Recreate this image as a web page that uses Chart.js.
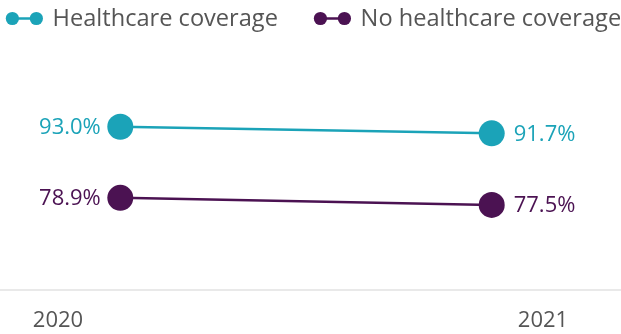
<!DOCTYPE html>
<html><head><meta charset="utf-8">
<script src="https://cdn.jsdelivr.net/npm/chart.js@4/dist/chart.umd.min.js"></script>
<style>html,body{margin:0;padding:0;background:#fff}#wrap{width:621px;height:334px;position:relative}</style>
</head><body><div id="wrap"><canvas id="c"></canvas></div>
<script>
const years = [2020, 2021];
const tickLabels = ['2020', '2021'];
const seriesNames = ['Healthcare coverage', 'No healthcare coverage'];
const healthcare = [93.0, 91.7];
const noHealthcare = [78.9, 77.5];

const colors = ['#1ba3b8', '#4b1252'];
const FONT = '"Open Sans", "Noto Sans", sans-serif';

const pointLabels = {
  id: 'pointLabels',
  afterDatasetsDraw(chart) {
    const ctx = chart.ctx;
    chart.data.datasets.forEach((ds, i) => {
      const meta = chart.getDatasetMeta(i);
      meta.data.forEach((pt, j) => {
        const v = ds.data[j].y;
        ctx.save();
        ctx.font = '22px ' + FONT;
        ctx.fillStyle = ds.borderColor;
        ctx.textBaseline = 'middle';
        const first = j === 0;
        ctx.textAlign = first ? 'right' : 'left';
        ctx.fillText(v.toFixed(1) + '%', pt.x + (first ? -19.5 : 22), pt.y + 1);
        ctx.restore();
      });
    });
  }
};

const customLegend = {
  id: 'customLegend',
  afterDraw(chart) {
    const ctx = chart.ctx;
    ctx.save();
    ctx.font = '23.6px ' + FONT;
    const items = chart.data.datasets.map(ds => ({ text: ds.label, color: ds.borderColor, w: ctx.measureText(ds.label).width }));
    const markerW = 46.7, gap = 36;
    let total = 0;
    items.forEach((it, i) => { total += markerW + it.w + (i ? gap : 0); });
    let x = (chart.width - total) / 2 + 3;
    const cy = 18.5;
    items.forEach(it => {
      ctx.strokeStyle = it.color; ctx.fillStyle = it.color; ctx.lineWidth = 2.5;
      ctx.beginPath(); ctx.moveTo(x + 6.5, cy); ctx.lineTo(x + 30.5, cy); ctx.stroke();
      ctx.beginPath(); ctx.arc(x + 6.5, cy, 6.6, 0, Math.PI * 2); ctx.fill();
      ctx.beginPath(); ctx.arc(x + 30.5, cy, 6.6, 0, Math.PI * 2); ctx.fill();
      ctx.fillStyle = '#555555';
      ctx.textBaseline = 'middle'; ctx.textAlign = 'left';
      ctx.fillText(it.text, x + markerW, cy + 1);
      x += markerW + it.w + gap;
    });
    ctx.restore();
  }
};

function mkDataset(name, vals, color) {
  return {
    label: name,
    data: years.map((y, i) => ({ x: y, y: vals[i] })),
    borderColor: color,
    backgroundColor: color,
    pointBackgroundColor: color,
    pointBorderWidth: 0,
    pointRadius: 13,
    pointHoverRadius: 13,
    borderWidth: 2.5,
    tension: 0,
    clip: false
  };
}

new Chart(document.getElementById('c'), {
  type: 'line',
  data: {
    datasets: [
      mkDataset(seriesNames[0], healthcare, colors[0]),
      mkDataset(seriesNames[1], noHealthcare, colors[1])
    ]
  },
  options: {
    responsive: true,
    maintainAspectRatio: false,
    animation: false,
    layout: { autoPadding: false, padding: { top: 50, left: 0, right: 0, bottom: 0 } },
    plugins: { legend: { display: false }, tooltip: { enabled: false } },
    scales: {
      x: { type: 'linear', display: false, min: 2019.6761, max: 2021.3481 },
      x2: {
        type: 'linear', position: 'bottom', min: 2019.8804, max: 2021.1608,
        afterBuildTicks(scale) { scale.ticks = years.map(v => ({ value: v })); },
        afterFit(scale) { scale.height = 44; },
        grid: { display: false, drawTicks: false },
        border: { display: true, color: '#e9e9e9', width: 2 },
        ticks: {
          padding: 18, color: '#555555', autoSkip: false, maxRotation: 0,
          font: { family: FONT, size: 22 },
          callback: (v, i) => tickLabels[i]
        }
      },
      y: { display: false, min: 60.61, max: 108.24 }
    }
  },
  plugins: [pointLabels, customLegend]
});
</script>
</body></html>
